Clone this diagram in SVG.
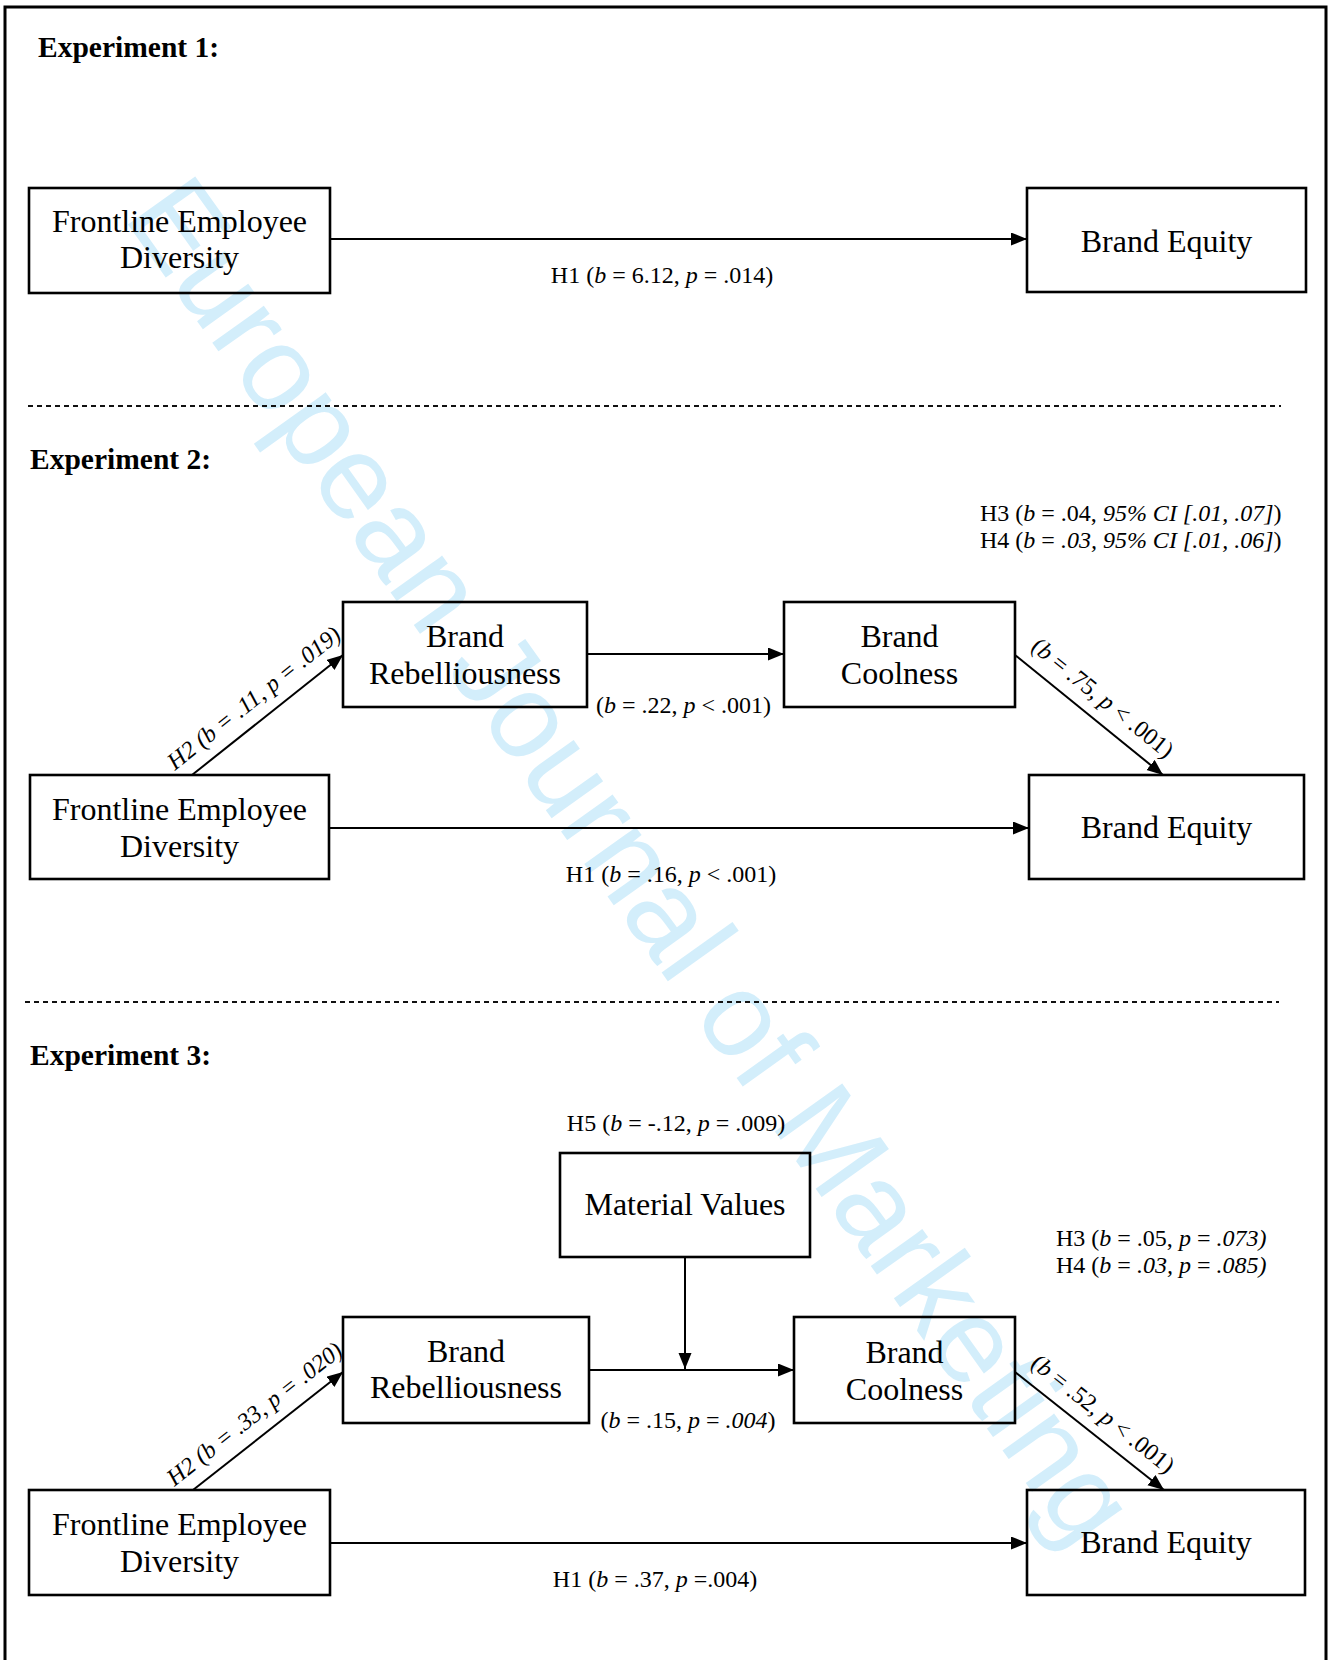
<svg xmlns="http://www.w3.org/2000/svg" width="1330" height="1660" viewBox="0 0 1330 1660">
<style>
.node rect{fill:none;stroke:#000;stroke-width:2.6}
.nt{font-family:"Liberation Serif","Times New Roman",serif;font-size:32px;fill:#000;text-anchor:middle}
.lb{font-family:"Liberation Serif","Times New Roman",serif;font-size:24px;fill:#000}
.ttl{font-family:"Liberation Serif","Times New Roman",serif;font-size:29.5px;font-weight:bold;fill:#000}
.i{font-style:italic}
.edge{stroke:#000;stroke-width:2;fill:none}
.sep{stroke:#111;stroke-width:2;stroke-dasharray:5 4}
.wm{font-family:"Liberation Sans",Arial,sans-serif;font-size:120px;fill:#d3eefb;text-anchor:middle}
</style>
<defs>
<marker id="ah" markerUnits="userSpaceOnUse" markerWidth="17" markerHeight="14" refX="16" refY="6.5" orient="auto">
<path d="M0,0 L16,6.5 L0,13 Z" fill="#000"/>
</marker>
</defs>
<rect width="1330" height="1660" fill="#fff"/>
<text class="wm" transform="translate(633,860) rotate(54.5)" y="42">European Journal of Marketing</text>
<rect x="5" y="7" width="1321" height="1700" fill="none" stroke="#000" stroke-width="3"/>

<g id="titles">
<text class="ttl" x="38" y="57">Experiment 1:</text>
<text class="ttl" x="30" y="469">Experiment 2:</text>
<text class="ttl" x="30" y="1065">Experiment 3:</text>
</g>
<g id="separators">
<line class="sep" x1="28" y1="406" x2="1281" y2="406"/>
<line class="sep" x1="25" y1="1002" x2="1279" y2="1002"/>
</g>

<!-- Experiment 1 -->
<g id="e1-fed" class="node"><rect x="29" y="188" width="301" height="105"/>
<text class="nt" x="179.5" y="232">Frontline Employee</text><text class="nt" x="179.5" y="268">Diversity</text></g>
<g id="e1-be" class="node"><rect x="1027" y="188" width="279" height="104"/>
<text class="nt" x="1166.5" y="252">Brand Equity</text></g>

<!-- Experiment 2 -->
<g id="e2-br" class="node"><rect x="343" y="602" width="244" height="105"/>
<text class="nt" x="465" y="647">Brand</text><text class="nt" x="465" y="684">Rebelliousness</text></g>
<g id="e2-bc" class="node"><rect x="784" y="602" width="231" height="105"/>
<text class="nt" x="899.5" y="647">Brand</text><text class="nt" x="899.5" y="684">Coolness</text></g>
<g id="e2-fed" class="node"><rect x="30" y="775" width="299" height="104"/>
<text class="nt" x="179.5" y="820">Frontline Employee</text><text class="nt" x="179.5" y="857">Diversity</text></g>
<g id="e2-be" class="node"><rect x="1029" y="775" width="275" height="104"/>
<text class="nt" x="1166.5" y="838">Brand Equity</text></g>

<!-- Experiment 3 -->
<g id="e3-mv" class="node"><rect x="560" y="1153" width="250" height="104"/>
<text class="nt" x="685" y="1215">Material Values</text></g>
<g id="e3-br" class="node"><rect x="343" y="1317" width="246" height="106"/>
<text class="nt" x="466" y="1362">Brand</text><text class="nt" x="466" y="1398">Rebelliousness</text></g>
<g id="e3-bc" class="node"><rect x="794" y="1317" width="221" height="106"/>
<text class="nt" x="904.5" y="1363">Brand</text><text class="nt" x="904.5" y="1400">Coolness</text></g>
<g id="e3-fed" class="node"><rect x="29" y="1490" width="301" height="105"/>
<text class="nt" x="179.5" y="1535">Frontline Employee</text><text class="nt" x="179.5" y="1572">Diversity</text></g>
<g id="e3-be" class="node"><rect x="1027" y="1490" width="278" height="105"/>
<text class="nt" x="1166" y="1553">Brand Equity</text></g>

<g id="connectors">
<line class="edge" x1="330" y1="239" x2="1027" y2="239" marker-end="url(#ah)"/>
<line class="edge" x1="587" y1="654" x2="784" y2="654" marker-end="url(#ah)"/>
<line class="edge" x1="329" y1="828" x2="1029" y2="828" marker-end="url(#ah)"/>
<line class="edge" x1="192" y1="775" x2="343" y2="655" marker-end="url(#ah)"/>
<line class="edge" x1="1015" y1="655" x2="1163" y2="775" marker-end="url(#ah)"/>
<line class="edge" x1="685" y1="1257" x2="685" y2="1369" marker-end="url(#ah)"/>
<line class="edge" x1="589" y1="1370" x2="794" y2="1370" marker-end="url(#ah)"/>
<line class="edge" x1="330" y1="1543" x2="1027" y2="1543" marker-end="url(#ah)"/>
<line class="edge" x1="193" y1="1490" x2="343" y2="1372" marker-end="url(#ah)"/>
<line class="edge" x1="1015" y1="1372" x2="1164" y2="1490" marker-end="url(#ah)"/>
</g>

<g id="labels">
<text class="lb" x="662" y="283" text-anchor="middle">H1 (<tspan class="i">b</tspan> = 6.12, <tspan class="i">p</tspan> = .014)</text>
<text class="lb" x="683.5" y="713" text-anchor="middle">(<tspan class="i">b</tspan> = .22, <tspan class="i">p</tspan> &lt; .001)</text>
<text class="lb" x="671" y="882" text-anchor="middle">H1 (<tspan class="i">b</tspan> = .16, <tspan class="i">p</tspan> &lt; .001)</text>
<text class="lb" x="980" y="521">H3 (<tspan class="i">b</tspan> = .04, <tspan class="i">95% CI [.01, .07]</tspan>)</text>
<text class="lb" x="980" y="548">H4 (<tspan class="i">b</tspan> = <tspan class="i">.03, 95% CI [.01, .06]</tspan>)</text>
<text class="lb i" transform="translate(267.5,715) rotate(-38.5)" y="-14" text-anchor="middle">H2 (b = .11, p = .019)</text>
<text class="lb" transform="translate(1089,715) rotate(39)" y="-14" text-anchor="middle">(<tspan class="i">b</tspan> = .75, <tspan class="i">p</tspan> &lt; .001)</text>

<text class="lb" x="676" y="1131" text-anchor="middle">H5 (<tspan class="i">b</tspan> = -.12, <tspan class="i">p</tspan> = .009)</text>
<text class="lb" x="1056" y="1246">H3 (<tspan class="i">b</tspan> = .05, <tspan class="i">p</tspan> = <tspan class="i">.073)</tspan></text>
<text class="lb" x="1056" y="1273">H4 (<tspan class="i">b</tspan> = <tspan class="i">.03, p</tspan> = <tspan class="i">.085)</tspan></text>
<text class="lb" x="688" y="1428" text-anchor="middle">(<tspan class="i">b</tspan> = .15, <tspan class="i">p</tspan> = <tspan class="i">.004</tspan>)</text>
<text class="lb" x="655" y="1587" text-anchor="middle">H1 (<tspan class="i">b</tspan> = .37, <tspan class="i">p</tspan> =.004)</text>
<text class="lb i" transform="translate(268,1431) rotate(-38.2)" y="-14" text-anchor="middle">H2 (b = .33, p = .020)</text>
<text class="lb" transform="translate(1089.5,1431) rotate(38.4)" y="-14" text-anchor="middle">(<tspan class="i">b</tspan> = .52, <tspan class="i">p</tspan> &lt; .001)</text>
</g>
</svg>
